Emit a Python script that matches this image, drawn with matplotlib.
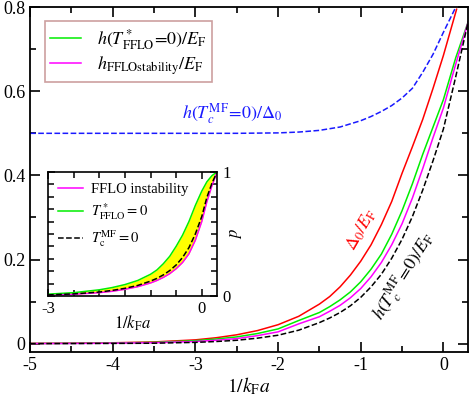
import matplotlib
matplotlib.use("Agg")
import matplotlib.pyplot as plt

plt.rcParams["font.family"] = "serif"
plt.rcParams["font.serif"] = ["Liberation Serif", "DejaVu Serif"]
plt.rcParams["mathtext.fontset"] = "stix"

# main panel: curves
x_blue = [-5, -3, -2.5, -2, -1.75, -1.5, -1.25, -1.0, -0.875, -0.75, -0.625, -0.5,
          -0.375, -0.25, -0.125, 0, 0.075, 0.15]
h_mf_over_delta = [0.5, 0.5, 0.5, 0.501, 0.503, 0.507, 0.515, 0.53, 0.54, 0.552, 0.566, 0.584,
                   0.607, 0.645, 0.688, 0.74, 0.77, 0.80]

x_red = [-5, -4.5, -4, -3.5, -3, -2.75, -2.5, -2.25, -2, -1.75, -1.5, -1.375, -1.25, -1.125,
         -1.0, -0.875, -0.75, -0.625, -0.5, -0.375, -0.25, -0.125, 0, 0.08, 0.16]
delta_over_ef = [0.0005, 0.001, 0.002, 0.004, 0.009, 0.014, 0.021, 0.031, 0.045, 0.065, 0.094,
                 0.112, 0.135, 0.163, 0.196, 0.235, 0.283, 0.338, 0.405, 0.468, 0.533, 0.607,
                 0.685, 0.74, 0.795]

x_h = [-5, -4.5, -4, -3.5, -3, -2.75, -2.5, -2.25, -2, -1.75, -1.5, -1.375, -1.25, -1.125,
       -1.0, -0.875, -0.75, -0.625, -0.5, -0.375, -0.25, -0.125, 0, 0.15, 0.3]
h_fflo_star = [0.0003, 0.0007, 0.0015, 0.003, 0.007, 0.011, 0.016, 0.024, 0.035, 0.055, 0.074,
               0.088, 0.104, 0.123, 0.147, 0.177, 0.213, 0.26, 0.316, 0.38, 0.45, 0.515,
               0.58, 0.68, 0.765]
h_fflo_stab = [0.0002, 0.0005, 0.001, 0.0022, 0.005, 0.008, 0.012, 0.019, 0.028, 0.047, 0.064,
               0.077, 0.091, 0.109, 0.131, 0.159, 0.193, 0.235, 0.285, 0.346, 0.416, 0.49,
               0.56, 0.665, 0.765]
h_mf_over_ef = [0.0, 0.0002, 0.0005, 0.001, 0.003, 0.005, 0.008, 0.013, 0.02, 0.032, 0.05,
                0.061, 0.074, 0.09, 0.11, 0.135, 0.165, 0.203, 0.248, 0.302, 0.365, 0.435,
                0.51, 0.635, 0.765]

# inset: polarization p
x_in = [-3, -2.5, -2, -1.75, -1.5, -1.25, -1.0, -0.875, -0.75, -0.625, -0.5, -0.375, -0.25,
        -0.125, 0, 0.1, 0.2, 0.3]
p_fflo_star = [0.015, 0.027, 0.05, 0.068, 0.092, 0.125, 0.175, 0.21, 0.26, 0.32, 0.40, 0.49,
               0.60, 0.73, 0.845, 0.92, 0.97, 1.0]
p_fflo_inst = [0.007, 0.014, 0.027, 0.038, 0.054, 0.075, 0.105, 0.125, 0.15, 0.18, 0.22, 0.27,
               0.34, 0.45, 0.60, 0.76, 0.89, 1.0]
p_mf = [0.009, 0.017, 0.032, 0.045, 0.062, 0.085, 0.12, 0.142, 0.17, 0.205, 0.25, 0.31, 0.39,
        0.50, 0.64, 0.795, 0.91, 1.0]

GREEN = "#00ee00"
MAGENTA = "#ff00ff"
BLUE = "#1a1aff"

fig = plt.figure(figsize=(4.71, 3.96), dpi=100)
ax = fig.add_axes([0.064, 0.111, 0.930, 0.871])

ax.plot(x_blue, h_mf_over_delta, "--", color=BLUE, lw=1.1)
ax.plot(x_red, delta_over_ef, "-", color="red", lw=1.1)
l1, = ax.plot(x_h, h_fflo_star, "-", color=GREEN, lw=1.1)
l2, = ax.plot(x_h, h_fflo_stab, "-", color=MAGENTA, lw=1.1)
ax.plot(x_h, h_mf_over_ef, "--", color="black", lw=1.1)

ax.set_xlim(-5, 0.3)
ax.set_ylim(-0.02, 0.8)
ax.set_xticks([-5, -4, -3, -2, -1, 0])
ax.set_xticklabels(["-5", "-4", "-3", "-2", "-1", "0"])
ax.set_xticks([-4.5, -3.5, -2.5, -1.5, -0.5], minor=True)
ax.set_yticks([0, 0.2, 0.4, 0.6, 0.8])
ax.set_yticklabels(["0", "0.2", "0.4", "0.6", "0.8"])
ax.set_yticks([0.1, 0.3, 0.5, 0.7], minor=True)
ax.tick_params(which="both", direction="in", top=True, right=True, labelsize=13, width=1.2)
ax.tick_params(which="major", length=7)
ax.tick_params(which="minor", length=4)
for s in ax.spines.values():
    s.set_linewidth(1.3)
ax.set_xlabel(r"$1/k_{\rm F}a$", fontsize=14, labelpad=1)

ax.text(-2.55, 0.548, r"$h(T_c^{\rm MF}\!=\!0)/\Delta_0$", color=BLUE, fontsize=13,
        ha="center", va="center")
ax.text(-0.99, 0.27, r"$\Delta_0/E_{\rm F}$", color="red", fontsize=13,
        ha="center", va="center", rotation=60)
ax.text(-0.48, 0.16, r"$h(T_c^{\rm MF}\!=\!0)/E_{\rm F}$", color="black", fontsize=13,
        ha="center", va="center", rotation=58)

leg = ax.legend([l1, l2], [r"$h(T^*_{\rm FFLO}\!=\!0)/E_{\rm F}$", r"$h_{\rm FFLOstability}/E_{\rm F}$"],
                loc="upper left", bbox_to_anchor=(0.013, 0.985), fontsize=13, frameon=True,
                fancybox=False, edgecolor="#c08888", handlelength=1.7, borderpad=0.3,
                labelspacing=0.15, handletextpad=0.9)
leg.get_frame().set_linewidth(1.2)

# inset
ins = fig.add_axes([0.102, 0.2525, 0.359, 0.3135])
ins.fill_between(x_in, p_fflo_inst, p_fflo_star, color="yellow", lw=0)
m1, = ins.plot(x_in, p_fflo_inst, "-", color=MAGENTA, lw=1.1)
m2, = ins.plot(x_in, p_fflo_star, "-", color=GREEN, lw=1.1)
m3, = ins.plot(x_in, p_mf, "--", color="black", lw=1.1)
ins.set_xlim(-3, 0.3)
ins.set_ylim(0, 1)
ins.set_xticks([-3, 0])
ins.set_xticklabels(["-3", "0"])
ins.set_xticks([-2.5, -2, -1.5, -1, -0.5], minor=True)
ins.set_yticks([0, 1])
ins.set_yticks([0.1 * i for i in range(1, 10)], minor=True)
ins.yaxis.tick_right()
ins.yaxis.set_label_position("right")
ins.tick_params(which="both", direction="in", top=True, left=True, right=True,
                labelleft=False, labelright=True, labelsize=12, width=1.1)
ins.tick_params(which="major", length=5)
ins.tick_params(which="minor", length=4)
for s in ins.spines.values():
    s.set_linewidth(1.2)
ins.set_xlabel(r"$1/k_{\rm F}a$", fontsize=12, labelpad=-2)
ins.set_ylabel(r"$p$", fontsize=12, labelpad=-2)
ins.legend([m1, m2, m3], ["FFLO instability", r"$T^*_{\rm FFLO}=0$", r"$T_{\rm c}^{\rm MF}=0$"],
           loc="upper left", bbox_to_anchor=(-0.02, 1.02), fontsize=10.5, frameon=False,
           handlelength=1.7, labelspacing=0.4, handletextpad=0.6)

fig.savefig("out.png", dpi=100)
